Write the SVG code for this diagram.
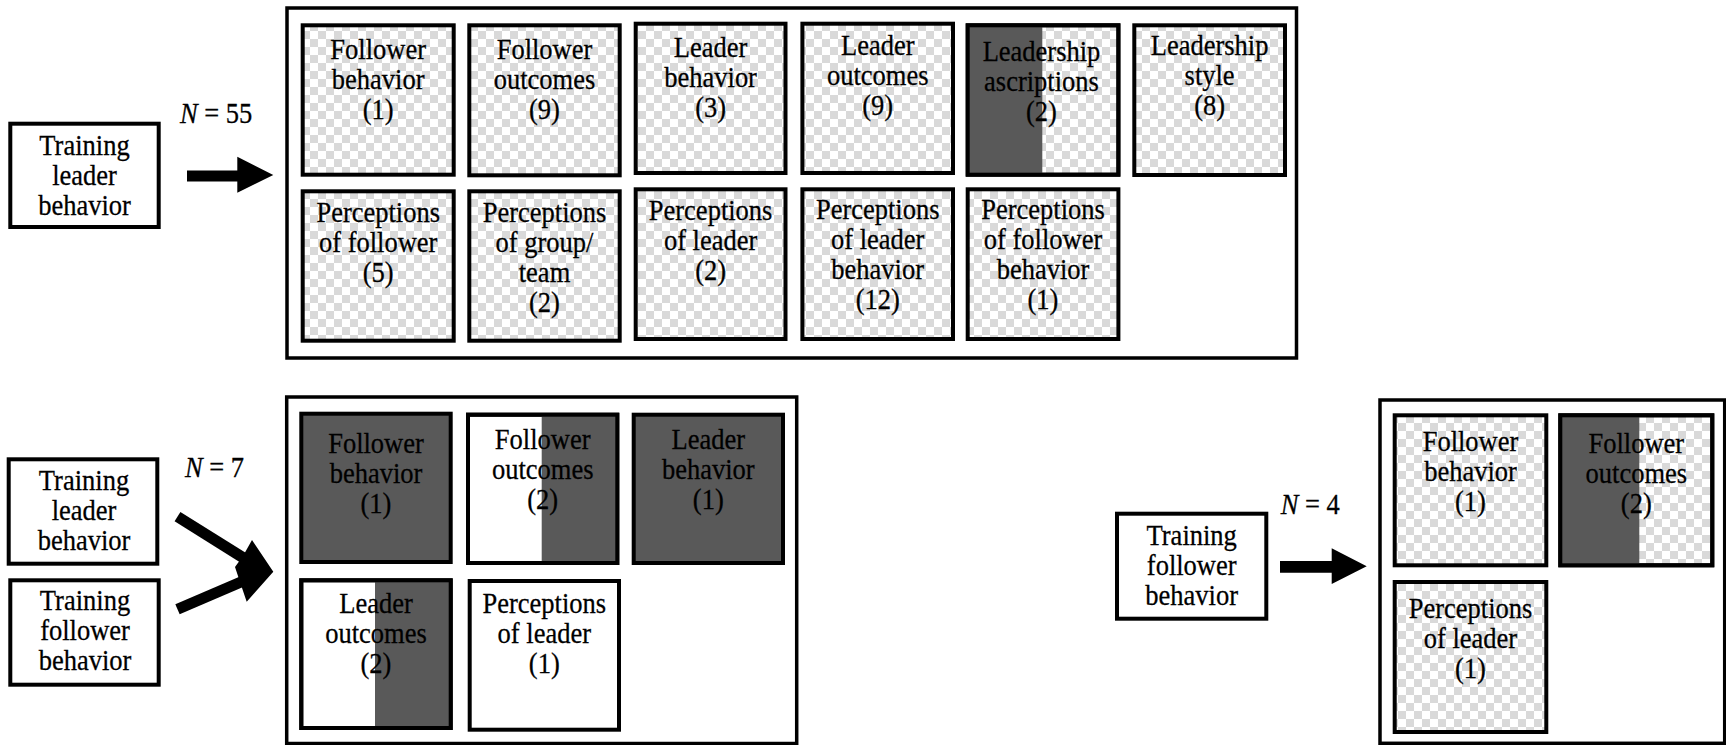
<svg xmlns="http://www.w3.org/2000/svg" width="1726" height="745" viewBox="0 0 1726 745" font-family="'Liberation Serif', 'Times New Roman', Times, serif">
<style>
.box{stroke:#000;stroke-width:4;fill:url(#chk)}
.wbox{stroke:#000;stroke-width:4;fill:#fff}
.dbox{stroke:#000;stroke-width:4;fill:#595959}
.edge{stroke:#000;stroke-width:4;fill:none}
.dark{fill:#595959}
.frame{fill:none;stroke:#000;stroke-width:3.5}
.lbl{font-family:'Liberation Serif','Times New Roman',serif;font-size:26.5px;text-anchor:middle;fill:#000;stroke:#000;stroke-width:0.25}
.nl{font-family:'Liberation Serif','Times New Roman',serif;font-size:26.5px;fill:#000;stroke:#000;stroke-width:0.25}
.arrow{fill:#000}
.bar{stroke:#000;stroke-width:11;fill:none}
</style>
<defs>
<pattern id="chk" patternUnits="userSpaceOnUse" x="6" y="7" width="16" height="16">
<rect width="16" height="16" fill="#fff"/>
<rect width="8" height="8" fill="#d9d9d9"/>
<rect x="8" y="8" width="8" height="8" fill="#d9d9d9"/>
</pattern>
</defs>
<rect width="1726" height="745" fill="#fff"/>

<g id="frame-top"><rect class="frame" x="287" y="8" width="1009.5" height="350"/></g>
<g id="frame-bottom-mid"><rect class="frame" x="286.7" y="397" width="510" height="346.5"/></g>
<g id="frame-bottom-right"><rect class="frame" x="1380" y="400" width="344.7" height="343.3"/></g>

<g id="src-top-leader">
<rect class="wbox" x="10.3" y="123.7" width="148.4" height="103.3"/>
<g transform="translate(84.5,155) scale(1,1.13)"><text class="lbl"><tspan x="0" y="0">Training</tspan><tspan x="0" y="26.55">leader</tspan><tspan x="0" y="53.1">behavior</tspan></text></g>
</g>
<g id="src-mid-leader">
<rect class="wbox" x="8.7" y="459.3" width="148.6" height="104.4"/>
<g transform="translate(84,490) scale(1,1.13)"><text class="lbl"><tspan x="0" y="0">Training</tspan><tspan x="0" y="26.55">leader</tspan><tspan x="0" y="53.1">behavior</tspan></text></g>
</g>
<g id="src-mid-follower">
<rect class="wbox" x="10.3" y="580.3" width="148.4" height="104.4"/>
<g transform="translate(85,610) scale(1,1.13)"><text class="lbl"><tspan x="0" y="0">Training</tspan><tspan x="0" y="26.55">follower</tspan><tspan x="0" y="53.1">behavior</tspan></text></g>
</g>
<g id="src-right-follower">
<rect class="wbox" x="1117" y="513.7" width="149.3" height="105"/>
<g transform="translate(1191.7,545) scale(1,1.13)"><text class="lbl"><tspan x="0" y="0">Training</tspan><tspan x="0" y="26.55">follower</tspan><tspan x="0" y="53.1">behavior</tspan></text></g>
</g>

<g id="n-labels">
<g transform="translate(180,123) scale(1,1.13)"><text class="nl" x="0" y="0"><tspan font-style="italic">N</tspan> = 55</text></g>
<g transform="translate(185,477.3) scale(1,1.13)"><text class="nl" x="0" y="0"><tspan font-style="italic">N</tspan> = 7</text></g>
<g transform="translate(1280.7,514) scale(1,1.13)"><text class="nl" x="0" y="0"><tspan font-style="italic">N</tspan> = 4</text></g>
</g>

<g id="connectors">
<polygon class="arrow" points="187,170.5 237.3,170.5 237.3,156.7 273.3,175 237.3,192.7 237.3,181.5 187,181.5"/>
<line class="bar" x1="177.5" y1="516.7" x2="250" y2="562"/>
<line class="bar" x1="177.5" y1="609.2" x2="248" y2="579"/>
<polygon class="arrow" points="252,540 273.3,571.7 246.7,601.7 240,582 235,567 243,556"/>
<polygon class="arrow" points="1280,561 1331.7,561 1331.7,548.3 1366.7,566.2 1331.7,584 1331.7,572.7 1280,572.7"/>
</g>

<g id="t-follower-behavior">
<rect class="box" x="302.7" y="25.3" width="151" height="149.4"/>
<g transform="translate(378.2,59.3) scale(1,1.13)"><text class="lbl"><tspan x="0" y="0">Follower</tspan><tspan x="0" y="26.55">behavior</tspan><tspan x="0" y="53.1">(1)</tspan></text></g>
</g>
<g id="t-follower-outcomes">
<rect class="box" x="469.3" y="25.3" width="150.4" height="150"/>
<g transform="translate(544.5,59.3) scale(1,1.13)"><text class="lbl"><tspan x="0" y="0">Follower</tspan><tspan x="0" y="26.55">outcomes</tspan><tspan x="0" y="53.1">(9)</tspan></text></g>
</g>
<g id="t-leader-behavior">
<rect class="box" x="635.7" y="23.7" width="149.8" height="149.3"/>
<g transform="translate(710.6,56.7) scale(1,1.13)"><text class="lbl"><tspan x="0" y="0">Leader</tspan><tspan x="0" y="26.55">behavior</tspan><tspan x="0" y="53.1">(3)</tspan></text></g>
</g>
<g id="t-leader-outcomes">
<rect class="box" x="802.4" y="23.7" width="150.6" height="149.3"/>
<g transform="translate(877.7,54.5) scale(1,1.13)"><text class="lbl"><tspan x="0" y="0">Leader</tspan><tspan x="0" y="26.55">outcomes</tspan><tspan x="0" y="53.1">(9)</tspan></text></g>
</g>
<g id="t-leadership-ascriptions">
<rect class="box" x="967.7" y="25.3" width="150.7" height="149.4"/>
<rect class="dark" x="967.7" y="25.3" width="74.6" height="149.4"/>
<rect class="edge" x="967.7" y="25.3" width="150.7" height="149.4"/>
<g transform="translate(1041.5,61) scale(1,1.13)"><text class="lbl"><tspan x="0" y="0">Leadership</tspan><tspan x="0" y="26.55">ascriptions</tspan><tspan x="0" y="53.1">(2)</tspan></text></g>
</g>
<g id="t-leadership-style">
<rect class="box" x="1134.3" y="25.3" width="150.7" height="149.7"/>
<g transform="translate(1209.6,55) scale(1,1.13)"><text class="lbl"><tspan x="0" y="0">Leadership</tspan><tspan x="0" y="26.55">style</tspan><tspan x="0" y="53.1">(8)</tspan></text></g>
</g>

<g id="t-perc-follower">
<rect class="box" x="302.7" y="191.3" width="151" height="149.4"/>
<g transform="translate(378.2,221.7) scale(1,1.13)"><text class="lbl"><tspan x="0" y="0">Perceptions</tspan><tspan x="0" y="26.55">of follower</tspan><tspan x="0" y="53.1">(5)</tspan></text></g>
</g>
<g id="t-perc-group">
<rect class="box" x="469.3" y="191.3" width="150.4" height="149.4"/>
<g transform="translate(544.5,221.7) scale(1,1.13)"><text class="lbl"><tspan x="0" y="0">Perceptions</tspan><tspan x="0" y="26.55">of group/</tspan><tspan x="0" y="53.1">team</tspan><tspan x="0" y="79.65">(2)</tspan></text></g>
</g>
<g id="t-perc-leader">
<rect class="box" x="635.7" y="189.3" width="149.8" height="149.7"/>
<g transform="translate(710.6,220) scale(1,1.13)"><text class="lbl"><tspan x="0" y="0">Perceptions</tspan><tspan x="0" y="26.55">of leader</tspan><tspan x="0" y="53.1">(2)</tspan></text></g>
</g>
<g id="t-perc-leader-behavior">
<rect class="box" x="802.4" y="189.3" width="150.6" height="149.7"/>
<g transform="translate(877.7,218.5) scale(1,1.13)"><text class="lbl"><tspan x="0" y="0">Perceptions</tspan><tspan x="0" y="26.55">of leader</tspan><tspan x="0" y="53.1">behavior</tspan><tspan x="0" y="79.65">(12)</tspan></text></g>
</g>
<g id="t-perc-follower-behavior">
<rect class="box" x="967.7" y="189.3" width="150.7" height="149.7"/>
<g transform="translate(1043,218.5) scale(1,1.13)"><text class="lbl"><tspan x="0" y="0">Perceptions</tspan><tspan x="0" y="26.55">of follower</tspan><tspan x="0" y="53.1">behavior</tspan><tspan x="0" y="79.65">(1)</tspan></text></g>
</g>

<g id="m-follower-behavior">
<rect class="dbox" x="301.3" y="413.7" width="149.4" height="148.3"/>
<g transform="translate(376,453.3) scale(1,1.13)"><text class="lbl"><tspan x="0" y="0">Follower</tspan><tspan x="0" y="26.55">behavior</tspan><tspan x="0" y="53.1">(1)</tspan></text></g>
</g>
<g id="m-follower-outcomes">
<rect class="wbox" x="468" y="414.7" width="149.3" height="148.3"/>
<rect class="dark" x="541.7" y="414.7" width="75.6" height="148.3"/>
<rect class="edge" x="468" y="414.7" width="149.3" height="148.3"/>
<g transform="translate(542.7,449.3) scale(1,1.13)"><text class="lbl"><tspan x="0" y="0">Follower</tspan><tspan x="0" y="26.55">outcomes</tspan><tspan x="0" y="53.1">(2)</tspan></text></g>
</g>
<g id="m-leader-behavior">
<rect class="dbox" x="633.7" y="414.7" width="149.3" height="148.3"/>
<g transform="translate(708.3,449.3) scale(1,1.13)"><text class="lbl"><tspan x="0" y="0">Leader</tspan><tspan x="0" y="26.55">behavior</tspan><tspan x="0" y="53.1">(1)</tspan></text></g>
</g>
<g id="m-leader-outcomes">
<rect class="wbox" x="301.3" y="580.3" width="149.4" height="147.7"/>
<rect class="dark" x="375" y="580.3" width="75.7" height="147.7"/>
<rect class="edge" x="301.3" y="580.3" width="149.4" height="147.7"/>
<g transform="translate(376,612.7) scale(1,1.13)"><text class="lbl"><tspan x="0" y="0">Leader</tspan><tspan x="0" y="26.55">outcomes</tspan><tspan x="0" y="53.1">(2)</tspan></text></g>
</g>
<g id="m-perc-leader">
<rect class="wbox" x="469.7" y="581" width="149.3" height="148.7"/>
<g transform="translate(544.3,612.7) scale(1,1.13)"><text class="lbl"><tspan x="0" y="0">Perceptions</tspan><tspan x="0" y="26.55">of leader</tspan><tspan x="0" y="53.1">(1)</tspan></text></g>
</g>

<g id="r-follower-behavior">
<rect class="box" x="1394.7" y="415.3" width="151.6" height="150"/>
<g transform="translate(1470.5,450.7) scale(1,1.13)"><text class="lbl"><tspan x="0" y="0">Follower</tspan><tspan x="0" y="26.55">behavior</tspan><tspan x="0" y="53.1">(1)</tspan></text></g>
</g>
<g id="r-follower-outcomes">
<rect class="box" x="1560.3" y="415.3" width="152" height="150"/>
<rect class="dark" x="1560.3" y="415.3" width="79" height="150"/>
<rect class="edge" x="1560.3" y="415.3" width="152" height="150"/>
<g transform="translate(1636.3,452.7) scale(1,1.13)"><text class="lbl"><tspan x="0" y="0">Follower</tspan><tspan x="0" y="26.55">outcomes</tspan><tspan x="0" y="53.1">(2)</tspan></text></g>
</g>
<g id="r-perc-leader">
<rect class="box" x="1394.7" y="582" width="151.6" height="150"/>
<g transform="translate(1470.5,618.3) scale(1,1.13)"><text class="lbl"><tspan x="0" y="0">Perceptions</tspan><tspan x="0" y="26.55">of leader</tspan><tspan x="0" y="53.1">(1)</tspan></text></g>
</g>
</svg>
